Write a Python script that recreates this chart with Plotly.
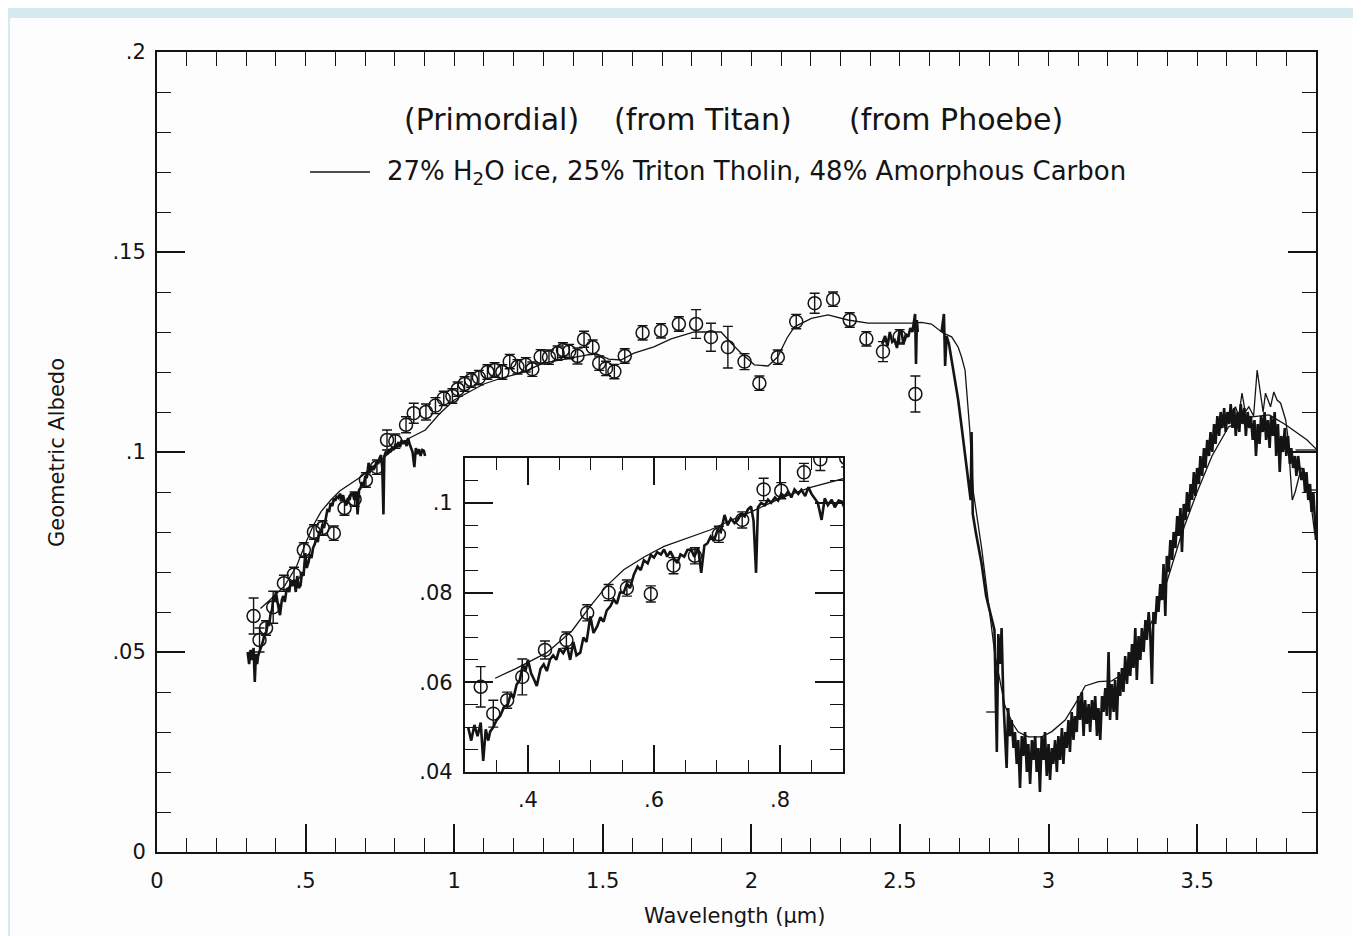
import plotly.graph_objects as go

# ---------------- data ----------------
# smooth model curve: 27% H2O ice, 25% Triton tholin, 48% amorphous carbon
model_wl = [0.348, 0.380, 0.430, 0.470, 0.499, 0.525, 0.552, 0.585, 0.616, 0.650, 0.690, 0.720,
            0.754, 0.807, 0.850, 0.903, 0.950, 1.000, 1.050, 1.100, 1.160, 1.224, 1.300, 1.392,
            1.449, 1.480, 1.520, 1.561, 1.605, 1.672, 1.730, 1.808, 1.898, 1.935, 1.966, 2.010,
            2.056, 2.089, 2.120, 2.145, 2.202, 2.258, 2.325, 2.393, 2.480, 2.539, 2.572, 2.606,
            2.646, 2.674, 2.696, 2.707, 2.719, 2.735, 2.746, 2.775, 2.820, 2.853, 2.880, 2.898,
            2.932, 2.977, 3.011, 3.056, 3.101, 3.123, 3.168, 3.213, 3.260, 3.300, 3.350, 3.400,
            3.450, 3.500, 3.550, 3.606, 3.685, 3.742, 3.798, 3.831, 3.870, 3.904]
model_alb = [0.0609, 0.0630, 0.0666, 0.0715, 0.0770, 0.0815, 0.0851, 0.0880, 0.0903, 0.0920, 0.0940, 0.0960,
             0.0980, 0.1014, 0.1035, 0.1055, 0.1095, 0.1130, 0.1150, 0.1170, 0.1185, 0.1197, 0.1222, 0.1234,
             0.1243, 0.1245, 0.1232, 0.1230, 0.1247, 0.1263, 0.1283, 0.1300, 0.1300, 0.1270, 0.1247, 0.1218,
             0.1215, 0.1238, 0.1285, 0.1313, 0.1334, 0.1343, 0.1330, 0.1322, 0.1322, 0.1322, 0.1324, 0.1320,
             0.1297, 0.1288, 0.1262, 0.1238, 0.1205, 0.1055, 0.0905, 0.0759, 0.0491, 0.0366, 0.0320, 0.0300,
             0.0288, 0.0288, 0.0301, 0.0330, 0.0384, 0.0415, 0.0426, 0.0428, 0.0450, 0.0500, 0.0580, 0.0680,
             0.0800, 0.0900, 0.0990, 0.1063, 0.1088, 0.1093, 0.1068, 0.1051, 0.1030, 0.1005]

# visible spectrum 0.3 - 0.9 micron
vis_wl = [0.305, 0.310, 0.315, 0.320, 0.325, 0.329, 0.333, 0.337, 0.340, 0.345, 0.350, 0.356,
          0.362, 0.368, 0.373, 0.377, 0.382, 0.387, 0.392, 0.396, 0.400, 0.405, 0.410, 0.414,
          0.420, 0.425, 0.430, 0.435, 0.440, 0.445, 0.450, 0.456, 0.462, 0.467, 0.472, 0.477,
          0.483, 0.488, 0.493, 0.499, 0.504, 0.510, 0.515, 0.520, 0.525, 0.531, 0.536, 0.541,
          0.546, 0.552, 0.557, 0.562, 0.568, 0.574, 0.579, 0.584, 0.590, 0.595, 0.600, 0.605,
          0.611, 0.616, 0.621, 0.626, 0.632, 0.637, 0.642, 0.648, 0.653, 0.659, 0.664, 0.670,
          0.675, 0.680, 0.685, 0.690, 0.695, 0.701, 0.706, 0.712, 0.717, 0.722, 0.728, 0.733,
          0.738, 0.744, 0.749, 0.754, 0.758, 0.762, 0.765, 0.770, 0.776, 0.781, 0.786, 0.792,
          0.797, 0.802, 0.807, 0.813, 0.818, 0.823, 0.829, 0.834, 0.840, 0.845, 0.850, 0.855,
          0.860, 0.866, 0.871, 0.876, 0.882, 0.887, 0.893, 0.898, 0.902]
vis_alb = [0.0500, 0.0470, 0.0505, 0.0480, 0.0510, 0.0425, 0.0495, 0.0470, 0.0490, 0.0500, 0.0515, 0.0525,
           0.0545, 0.0550, 0.0575, 0.0565, 0.0595, 0.0605, 0.0640, 0.0625, 0.0650, 0.0620, 0.0605, 0.0592,
           0.0630, 0.0640, 0.0625, 0.0651, 0.0660, 0.0650, 0.0675, 0.0665, 0.0681, 0.0650, 0.0690, 0.0660,
           0.0666, 0.0700, 0.0690, 0.0747, 0.0710, 0.0725, 0.0745, 0.0735, 0.0760, 0.0770, 0.0785, 0.0775,
           0.0800, 0.0800, 0.0820, 0.0810, 0.0840, 0.0858, 0.0850, 0.0872, 0.0865, 0.0884, 0.0878, 0.0890,
           0.0885, 0.0896, 0.0880, 0.0892, 0.0875, 0.0866, 0.0885, 0.0880, 0.0895, 0.0896, 0.0880, 0.0900,
           0.0844, 0.0905, 0.0910, 0.0925, 0.0915, 0.0940, 0.0935, 0.0973, 0.0950, 0.0965, 0.0955, 0.0962,
           0.0975, 0.0970, 0.0985, 0.0992, 0.0960, 0.0844, 0.0990, 0.1000, 0.0995, 0.1007, 0.1000, 0.1012,
           0.1005, 0.1020, 0.1014, 0.1025, 0.1012, 0.1030, 0.1020, 0.1029, 0.1015, 0.1035, 0.1020, 0.1010,
           0.1000, 0.0962, 0.1010, 0.0995, 0.1007, 0.0990, 0.1005, 0.1003, 0.0990]

# near-IR spectrum pieces (2.44 - 3.9 micron)
ir_wl = [2.440, 2.450, 2.458, 2.466, 2.474, 2.482, 2.490, 2.498, 2.505, 2.512, 2.520, 2.528,
         2.535, 2.542, 2.548, 2.551, 2.554, 2.557, 2.560, None,
         2.640, 2.648, 2.652, 2.657, 2.665, 2.675, 2.685, 2.696, 2.708, 2.720, 2.730, 2.738,
         2.741, 2.745, 2.755, 2.765, 2.775, 2.790, 2.805, 2.818, 2.826, 2.831, 2.838, 2.842,
         2.848, 2.853, 2.859, 2.864, 2.870, 2.876, 2.882, 2.887, 2.893, 2.898, 2.904, 2.910,
         2.915, 2.921, 2.927, 2.932, 2.938, 2.944, 2.949, 2.955, 2.960, 2.966, 2.971, 2.977,
         2.983, 2.988, 2.994, 3.000, 3.005, 3.011, 3.016, 3.022, 3.028, 3.033, 3.039, 3.045,
         3.050, 3.056, 3.061, 3.067, 3.072, 3.078, 3.084, 3.089, 3.095, 3.100, 3.106, 3.112,
         3.118, 3.123, 3.129, 3.135, 3.140, 3.146, 3.152, 3.157, 3.163, 3.168, 3.174, 3.180,
         3.185, 3.191, 3.196, 3.202, 3.207, 3.213, 3.219, 3.224, 3.230, 3.236, 3.241, 3.247,
         3.252, 3.258, 3.264, 3.270, 3.275, 3.281, 3.286, 3.292, 3.297, 3.303, 3.309, 3.314,
         3.320, 3.326, 3.331, 3.337, 3.342, 3.348, 3.353, 3.359, 3.365, 3.370, 3.376, 3.382,
         3.387, 3.393, 3.398, 3.404, 3.410, 3.416, 3.421, 3.427, 3.433, 3.438, 3.444, 3.449,
         3.455, 3.461, 3.466, 3.472, 3.478, 3.483, 3.489, 3.494, 3.500, 3.506, 3.511, 3.517,
         3.523, 3.528, 3.534, 3.540, 3.545, 3.551, 3.557, 3.562, 3.568, 3.574, 3.579, 3.585,
         3.591, 3.596, 3.602, 3.608, 3.613, 3.619, 3.625, 3.630, 3.636, 3.642, 3.647, 3.653,
         3.659, 3.664, 3.670, 3.676, 3.681, 3.687, 3.693, 3.698, 3.704, 3.710, 3.715, 3.721,
         3.727, 3.732, 3.738, 3.744, 3.749, 3.755, 3.761, 3.766, 3.772, 3.778, 3.783, 3.789,
         3.795, 3.800, 3.806, 3.812, 3.817, 3.823, 3.829, 3.834, 3.840, 3.846, 3.851, 3.857,
         3.863, 3.868, 3.874, 3.880, 3.885, 3.891, 3.897, 3.900]
ir_alb = [0.1270, 0.1290, 0.1265, 0.1300, 0.1275, 0.1280, 0.1260, 0.1300, 0.1300, 0.1270, 0.1295, 0.1288,
          0.1310, 0.1300, 0.1330, 0.1345, 0.1220, 0.1330, 0.1300, None,
          0.1300, 0.1345, 0.1215, 0.1290, 0.1270, 0.1225, 0.1180, 0.1130, 0.1060, 0.0990, 0.0930, 0.0880,
          0.1050, 0.0845, 0.0800, 0.0760, 0.0720, 0.0640, 0.0590, 0.0555, 0.0250, 0.0545, 0.0470, 0.0560,
          0.0380, 0.0310, 0.0210, 0.0360, 0.0290, 0.0330, 0.0260, 0.0300, 0.0220, 0.0280, 0.0160, 0.0290,
          0.0240, 0.0300, 0.0200, 0.0270, 0.0170, 0.0280, 0.0230, 0.0290, 0.0200, 0.0260, 0.0150, 0.0290,
          0.0230, 0.0300, 0.0190, 0.0270, 0.0180, 0.0260, 0.0220, 0.0280, 0.0200, 0.0290, 0.0230, 0.0310,
          0.0220, 0.0300, 0.0260, 0.0330, 0.0250, 0.0350, 0.0280, 0.0340, 0.0300, 0.0390, 0.0330, 0.0400,
          0.0290, 0.0380, 0.0320, 0.0370, 0.0300, 0.0380, 0.0330, 0.0390, 0.0290, 0.0360, 0.0280, 0.0390,
          0.0350, 0.0410, 0.0340, 0.0500, 0.0330, 0.0420, 0.0350, 0.0430, 0.0330, 0.0450, 0.0390, 0.0460,
          0.0400, 0.0490, 0.0420, 0.0500, 0.0440, 0.0520, 0.0460, 0.0560, 0.0430, 0.0540, 0.0480, 0.0560,
          0.0500, 0.0580, 0.0530, 0.0600, 0.0550, 0.0420, 0.0600, 0.0570, 0.0640, 0.0600, 0.0670, 0.0630,
          0.0720, 0.0590, 0.0740, 0.0700, 0.0780, 0.0730, 0.0800, 0.0760, 0.0840, 0.0790, 0.0860, 0.0750,
          0.0870, 0.0830, 0.0900, 0.0850, 0.0920, 0.0880, 0.0950, 0.0890, 0.0960, 0.0920, 0.0990, 0.0940,
          0.1010, 0.0960, 0.1030, 0.0990, 0.1050, 0.1000, 0.1070, 0.1020, 0.1090, 0.1040, 0.1100, 0.1060,
          0.1110, 0.1050, 0.1100, 0.1070, 0.1120, 0.1060, 0.1110, 0.1040, 0.1100, 0.1050, 0.1120, 0.1070,
          0.1110, 0.1040, 0.1100, 0.1060, 0.1090, 0.1030, 0.1080, 0.0990, 0.1070, 0.1020, 0.1090, 0.1050,
          0.1100, 0.1030, 0.1080, 0.1010, 0.1090, 0.1040, 0.1100, 0.0990, 0.1070, 0.0950, 0.1040, 0.1000,
          0.1060, 0.0990, 0.1040, 0.0970, 0.1010, 0.0960, 0.0990, 0.0940, 0.0990, 0.0950, 0.0930, 0.0960,
          0.0900, 0.0950, 0.0880, 0.0920, 0.0850, 0.0900, 0.0820, 0.0780]

# second (thinner) spectrum near the 3.7 micron peak, plus short flat pieces
ir2_wl = [3.560, 3.580, 3.600, 3.615, 3.629, 3.640, 3.651, 3.662, 3.674, 3.690, 3.702, 3.713,
          3.722, 3.730, 3.747, 3.758, 3.769, 3.781, 3.790, 3.798, 3.805, 3.812, 3.820, 3.830,
          3.840, 3.850, 3.859, 3.868, 3.876, 3.885, 3.895, 3.904, None,
          3.831, 3.900, None, 3.865, 3.900, None, 2.790, 2.828]
ir2_alb = [0.1040, 0.1060, 0.1080, 0.1100, 0.1113, 0.1090, 0.1147, 0.1100, 0.1113, 0.1090, 0.1205, 0.1147,
           0.1100, 0.1147, 0.1113, 0.1150, 0.1130, 0.1122, 0.1100, 0.1080, 0.1040, 0.0960, 0.0880, 0.0900,
           0.0930, 0.0960, 0.0955, 0.0920, 0.0888, 0.0860, 0.0800, 0.0780, None,
           0.1005, 0.1005, None, 0.0905, 0.0905, None, 0.0350, 0.0350]

# photometric points with error bars
pt_wl = [0.325, 0.345, 0.367, 0.391, 0.427, 0.461, 0.494, 0.528, 0.557, 0.595, 0.631, 0.665,
         0.703, 0.740, 0.774, 0.802, 0.838, 0.864, 0.905, 0.937, 0.965, 0.994, 1.012, 1.035,
         1.057, 1.083, 1.112, 1.136, 1.162, 1.187, 1.213, 1.241, 1.263, 1.291, 1.319, 1.348,
         1.366, 1.387, 1.415, 1.437, 1.466, 1.488, 1.511, 1.539, 1.574, 1.634, 1.696, 1.756,
         1.814, 1.864, 1.921, 1.977, 2.027, 2.089, 2.151, 2.213, 2.275, 2.331, 2.387, 2.443,
         2.499, 2.552]
pt_alb = [0.0590, 0.0530, 0.0560, 0.0612, 0.0672, 0.0694, 0.0755, 0.0800, 0.0810, 0.0797, 0.0860, 0.0882,
          0.0930, 0.0962, 0.1030, 0.1027, 0.1068, 0.1097, 0.1100, 0.1116, 0.1134, 0.1140, 0.1157, 0.1170,
          0.1180, 0.1186, 0.1200, 0.1205, 0.1200, 0.1226, 0.1213, 0.1218, 0.1207, 0.1238, 0.1237, 0.1247,
          0.1255, 0.1251, 0.1240, 0.1282, 0.1262, 0.1222, 0.1209, 0.1201, 0.1240, 0.1298, 0.1303, 0.1320,
          0.1320, 0.1287, 0.1262, 0.1226, 0.1172, 0.1237, 0.1326, 0.1372, 0.1382, 0.1330, 0.1283, 0.1251,
          0.1288, 0.1145]
pt_err = [0.0045, 0.0030, 0.0018, 0.0040, 0.0020, 0.0018, 0.0018, 0.0018, 0.0018, 0.0018, 0.0018, 0.0018,
          0.0018, 0.0018, 0.0025, 0.0018, 0.0020, 0.0025, 0.0020, 0.0020, 0.0018, 0.0018, 0.0018, 0.0018,
          0.0018, 0.0018, 0.0018, 0.0018, 0.0018, 0.0018, 0.0018, 0.0018, 0.0018, 0.0018, 0.0018, 0.0018,
          0.0018, 0.0018, 0.0020, 0.0020, 0.0018, 0.0018, 0.0018, 0.0018, 0.0018, 0.0018, 0.0018, 0.0018,
          0.0036, 0.0035, 0.0052, 0.0020, 0.0018, 0.0018, 0.0018, 0.0025, 0.0018, 0.0018, 0.0018, 0.0025,
          0.0018, 0.0045]

# axis ticks and labels
x_major = [0, 0.5, 1, 1.5, 2, 2.5, 3, 3.5]
x_major_text = ["0", ".5", "1", "1.5", "2", "2.5", "3", "3.5"]
y_major = [0, 0.05, 0.1, 0.15, 0.2]
y_major_text = ["0", ".05", ".1", ".15", ".2"]
ix_major = [0.4, 0.6, 0.8]
ix_major_text = [".4", ".6", ".8"]
iy_major = [0.04, 0.06, 0.08, 0.1]
iy_major_text = [".04", ".06", ".08", ".1"]

x_minor = [round(i * 0.1, 2) for i in range(0, 40)]
y_minor = [round(i * 0.01, 3) for i in range(0, 21)]
ix_minor = [round(0.3 + i * 0.05, 3) for i in range(0, 13)]
iy_minor = [round(0.04 + i * 0.005, 4) for i in range(0, 15)]

# ---------------- figure ----------------
INK = "#141414"
FONT = "DejaVu Sans"

fig = go.Figure()

for xa, ya in (("x", "y"), ("x2", "y2")):
    fig.add_trace(go.Scatter(x=model_wl, y=model_alb, mode="lines", xaxis=xa, yaxis=ya,
                             line=dict(color=INK, width=1.3), showlegend=False, hoverinfo="skip"))
    fig.add_trace(go.Scatter(x=vis_wl, y=vis_alb, mode="lines", xaxis=xa, yaxis=ya,
                             line=dict(color=INK, width=2.6), showlegend=False, hoverinfo="skip"))
    fig.add_trace(go.Scatter(x=pt_wl, y=pt_alb, mode="markers", xaxis=xa, yaxis=ya,
                             marker=dict(symbol="circle-open", size=13, color=INK, line=dict(width=1.5)),
                             error_y=dict(type="data", array=pt_err, thickness=1.4, width=5, color=INK),
                             showlegend=False, hoverinfo="skip"))

fig.add_trace(go.Scatter(x=ir_wl, y=ir_alb, mode="lines", line=dict(color=INK, width=2.6),
                         connectgaps=False, showlegend=False, hoverinfo="skip"))
fig.add_trace(go.Scatter(x=ir2_wl, y=ir2_alb, mode="lines", line=dict(color=INK, width=1.3),
                         connectgaps=False, showlegend=False, hoverinfo="skip"))
# carrier for the top tick axis
fig.add_trace(go.Scatter(x=[None], y=[None], xaxis="x3", yaxis="y", showlegend=False, hoverinfo="skip"))

axis_common = dict(showgrid=False, zeroline=False, showline=True, linecolor=INK, linewidth=2,
                   ticks="inside", tickcolor=INK, tickwidth=1.5, mirror="ticks",
                   tickfont=dict(family=FONT, size=21, color=INK))

fig.update_layout(
    width=1353, height=928,
    margin=dict(l=149, r=45, t=44, b=84),
    paper_bgcolor="#d6ebf0",
    plot_bgcolor="white",
    xaxis=dict(**{**axis_common, "mirror": True}, range=[0, 3.9], tickmode="array",
               tickvals=x_major, ticktext=x_major_text, ticklen=28, ticklabelstandoff=9,
               minor=dict(tickmode="array", tickvals=x_minor, ticks="inside", ticklen=14,
                          tickcolor=INK, tickwidth=1.3)),
    xaxis3=dict(overlaying="x", side="top", anchor="y", range=[0, 3.9], showgrid=False,
                zeroline=False, showline=False, ticks="inside", tickmode="array", tickvals=x_minor,
                ticklen=14, tickwidth=1.3, tickcolor=INK, showticklabels=False),
    yaxis=dict(**axis_common, range=[0, 0.2], tickmode="array", tickvals=y_major,
               ticktext=y_major_text, ticklen=28, ticklabelstandoff=5,
               minor=dict(tickmode="array", tickvals=y_minor, ticks="inside", ticklen=14,
                          tickcolor=INK, tickwidth=1.3)),
    xaxis2=dict(**axis_common, domain=[0.2657, 0.5919], anchor="y2", range=[0.3, 0.9],
                tickmode="array", tickvals=ix_major, ticktext=ix_major_text, ticklen=27,
                ticklabelstandoff=8,
                minor=dict(tickmode="array", tickvals=ix_minor, ticks="inside", ticklen=12,
                           tickcolor=INK, tickwidth=1.3)),
    yaxis2=dict(**axis_common, domain=[0.1, 0.4925], anchor="x2", range=[0.04, 0.11],
                tickmode="array", tickvals=iy_major, ticktext=iy_major_text, ticklen=28,
                ticklabelstandoff=6,
                minor=dict(tickmode="array", tickvals=iy_minor, ticks="inside", ticklen=13,
                           tickcolor=INK, tickwidth=1.3)),
    shapes=[
        dict(type="rect", xref="paper", yref="paper", x0=-0.1268, x1=1.1, y0=-0.2, y1=1.0425,
             fillcolor="#fdfdfd", line=dict(width=0), layer="below"),
        dict(type="line", xref="paper", yref="paper", x0=0.132, x1=0.1838, y0=0.85, y1=0.85,
             line=dict(color=INK, width=1.3)),
    ],
    annotations=[
        dict(text="(Primordial)", x=0.2882, y=0.915, xref="paper", yref="paper", showarrow=False,
             xanchor="center", yanchor="middle", font=dict(family=FONT, size=30, color=INK)),
        dict(text="(from Titan)", x=0.4715, y=0.915, xref="paper", yref="paper", showarrow=False,
             xanchor="center", yanchor="middle", font=dict(family=FONT, size=30, color=INK)),
        dict(text="(from Phoebe)", x=0.6898, y=0.915, xref="paper", yref="paper", showarrow=False,
             xanchor="center", yanchor="middle", font=dict(family=FONT, size=30, color=INK)),
        dict(text="27% H<sub>2</sub>O ice, 25% Triton Tholin, 48% Amorphous Carbon", x=0.1967, y=0.85,
             xref="paper", yref="paper", showarrow=False, xanchor="left", yanchor="middle",
             font=dict(family=FONT, size=26, color=INK)),
        dict(text="Wavelength (µm)", x=0.4987, y=-0.08, xref="paper", yref="paper", showarrow=False,
             xanchor="center", yanchor="middle", font=dict(family=FONT, size=21, color=INK)),
        dict(text="Geometric Albedo", x=-0.0863, y=0.5, xref="paper", yref="paper", showarrow=False,
             textangle=-90, xanchor="center", yanchor="middle",
             font=dict(family=FONT, size=21, color=INK)),
    ],
)

fig.write_html("out.html")
